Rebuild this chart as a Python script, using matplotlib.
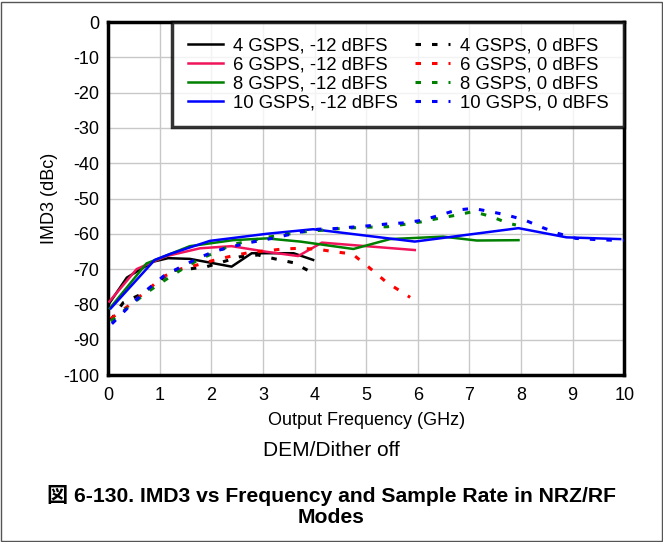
import matplotlib
matplotlib.use('Agg')
import matplotlib.pyplot as plt
from matplotlib.patches import Rectangle

plt.rcParams['font.family'] = ['Liberation Sans', 'Noto Sans CJK JP', 'DejaVu Sans']
plt.rcParams['axes.unicode_minus'] = False

# 4 GSPS, -12 dBFS
f4_12 = [0.02, 0.36, 0.87, 1.16, 1.58, 2.39, 2.78, 3.59, 3.97]
v4_12 = [-79.7, -72.4, -67.9, -66.9, -67.1, -69.3, -65.5, -65.5, -67.4]
# 6 GSPS, -12 dBFS
f6_12 = [0.02, 0.55, 0.87, 1.13, 1.78, 2.39, 3.07, 3.68, 4.14, 5.94]
v6_12 = [-79.2, -70.0, -67.9, -66.3, -64.1, -63.5, -65.1, -66.3, -62.5, -64.6]
# 8 GSPS, -12 dBFS
f8_12 = [0.03, 0.74, 1.58, 2.42, 3.07, 3.72, 4.75, 5.46, 6.49, 7.14, 7.95]
v8_12 = [-81.1, -68.4, -63.5, -61.8, -61.3, -62.2, -64.3, -61.5, -60.8, -61.9, -61.8]
# 10 GSPS, -12 dBFS
f10_12 = [0.05, 0.9, 1.2, 1.97, 3.07, 3.97, 5.94, 7.95, 8.88, 9.92]
v10_12 = [-81.1, -67.4, -65.7, -62.0, -60.0, -58.7, -62.2, -58.4, -61.0, -61.5]

# 0 dBFS series
f4_0 = [0.05, 0.29, 0.61, 0.9, 1.23, 1.55, 1.91, 2.23, 2.55, 2.9, 3.23, 3.59, 3.95]
v4_0 = [-84.4, -79.5, -77.3, -74.5, -70.4, -70.0, -69.3, -67.9, -66.5, -66.0, -67.1, -68.2, -71.0]
f6_0 = [0.05, 0.41, 1.07, 1.39, 1.73, 2.07, 2.39, 2.73, 3.07, 3.39, 3.72, 4.07, 4.39,
        4.73, 5.06, 5.39, 5.85]
v6_0 = [-84.0, -80.2, -72.1, -70.0, -68.8, -67.4, -66.3, -65.3, -64.8, -64.3, -64.1, -64.4,
        -65.1, -65.7, -69.6, -73.7, -78.0]
f8_0 = [0.05, 0.41, 0.74, 1.08, 1.4, 1.74, 2.42, 3.07, 3.75, 4.41, 4.75, 5.07, 5.41, 5.75,
        6.07, 6.41, 6.75, 7.07, 7.42, 7.75, 7.9]
v8_0 = [-84.8, -80.5, -76.7, -73.3, -70.3, -67.4, -63.0, -61.0, -59.5, -58.6, -58.3, -58.1,
        -58.0, -57.3, -56.6, -55.6, -54.7, -53.7, -55.1, -57.0, -57.5]
f10_0 = [0.07, 0.41, 0.74, 1.07, 1.39, 1.74, 2.07, 2.41, 2.73, 3.07, 3.39, 3.75, 4.07, 4.41,
         4.73, 5.07, 5.41, 5.73, 6.07, 6.41, 6.74, 7.07, 7.4, 7.73, 8.07, 8.41, 8.72, 9.06,
         9.4, 9.74, 10.0]
v10_0 = [-85.5, -80.5, -76.0, -72.0, -69.5, -66.9, -64.9, -63.6, -62.5, -61.6, -60.6, -59.4,
         -58.7, -58.5, -58.1, -57.7, -57.2, -56.9, -56.2, -54.8, -53.3, -52.8, -53.7, -54.7,
         -56.1, -58.2, -59.9, -61.3, -61.6, -61.8, -61.8]

solid_series = [
    (f4_12, v4_12, 'black', '4 GSPS, -12 dBFS'),
    (f6_12, v6_12, '#F0145A', '6 GSPS, -12 dBFS'),
    (f8_12, v8_12, '#008000', '8 GSPS, -12 dBFS'),
    (f10_12, v10_12, '#0000FF', '10 GSPS, -12 dBFS'),
]
dash_series = [
    (f4_0, v4_0, 'black', '4 GSPS, 0 dBFS'),
    (f6_0, v6_0, '#FF0000', '6 GSPS, 0 dBFS'),
    (f8_0, v8_0, '#008000', '8 GSPS, 0 dBFS'),
    (f10_0, v10_0, '#0000FF', '10 GSPS, 0 dBFS'),
]

fig = plt.figure(figsize=(6.63, 5.42), dpi=100)
ax = fig.add_axes([0.1633, 0.3081, 0.7783, 0.6513])

for f, v, c, lab in solid_series:
    ax.plot(f, v, color=c, lw=1.8, label=lab, zorder=3)
for f, v, c, lab in dash_series:
    ax.plot(f, v, color=c, lw=2.2, linestyle=(0, (1.8, 3.6)), label=lab, zorder=3)

ax.set_xlim(0, 10)
ax.set_ylim(-100, 0)
ax.set_xticks(range(0, 11))
ax.set_yticks(range(-100, 1, 10))
ax.grid(True, color='#C8C8C8', lw=1)
ax.set_axisbelow(True)
ax.tick_params(length=0, labelsize=13)
ax.tick_params(axis='x', pad=8.5)
ax.tick_params(axis='y', pad=6.5)
for s in ax.spines.values():
    s.set_linewidth(2.5)

ax.set_xlabel('Output Frequency (GHz)', fontsize=13, labelpad=6)
ax.set_ylabel('IMD3 (dBc)', fontsize=13, labelpad=4)

handles, labels = ax.get_legend_handles_labels()
leg = ax.legend(handles, labels, ncol=2, loc='upper right', fontsize=13.3,
                borderaxespad=0, frameon=True, fancybox=False, edgecolor='black',
                handlelength=1.9, handletextpad=0.55, columnspacing=0.9,
                labelspacing=0.1, borderpad=0.85)
leg.get_frame().set_linewidth(2.5)

fig.text(0.5, 1 - 451 / 542, 'DEM/Dither off', ha='center', va='center', fontsize=15)
fig.text(0.5, 1 - 506 / 542, '図 6-130. IMD3 vs Frequency and Sample Rate in NRZ/RF\nModes',
         ha='center', va='center', fontsize=15.2, fontweight='bold', linespacing=1.1)

fig.add_artist(Rectangle((0.002, 0.002), 0.996, 0.994, transform=fig.transFigure,
                         fill=False, edgecolor='#555555', lw=1))

fig.savefig('out.png', dpi=100)
